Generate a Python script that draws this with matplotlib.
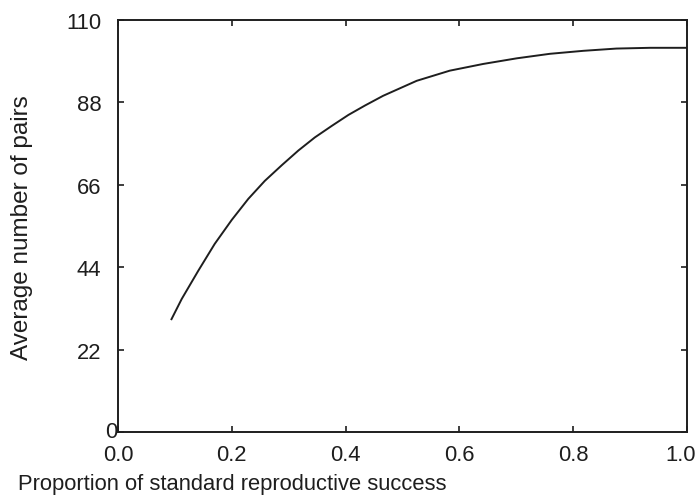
import matplotlib
matplotlib.use("Agg")
import matplotlib.pyplot as plt
import matplotlib.transforms as mtransforms

plt.rcParams['font.family'] = ['Liberation Sans', 'DejaVu Sans']

# Data
proportion = [0.094, 0.112, 0.141, 0.170, 0.200, 0.229, 0.258, 0.288, 0.317,
              0.346, 0.376, 0.405, 0.434, 0.466, 0.525, 0.583, 0.642, 0.701,
              0.759, 0.818, 0.876, 0.935, 0.988, 1.0]
avg_pairs = [30.1, 35.5, 43.0, 50.2, 56.6, 62.2, 67.0, 71.2, 75.1,
             78.6, 81.7, 84.6, 87.1, 89.7, 93.7, 96.4, 98.2, 99.7,
             100.9, 101.7, 102.3, 102.5, 102.5, 102.5]

xtick_values = [0.0, 0.2, 0.4, 0.6, 0.8, 1.0]
xtick_labels = ["0.0", "0.2", "0.4", "0.6", "0.8", "1.0"]
ytick_values = [0, 22, 44, 66, 88, 110]
ytick_labels = ["0", "22", "44", "66", "88", "110"]

xlabel = "Proportion of standard reproductive success"
ylabel = "Average number of pairs"

W, H = 696, 502
FS = 15.8
fig = plt.figure(figsize=(W / 100, H / 100), dpi=100)
ax = fig.add_axes([118 / W, 1 - 433 / H, (687 - 118) / W, (433 - 20.7) / H])

ink = "#1e1e1e"
ax.plot(proportion, avg_pairs, color=ink, lw=1.4)

ax.set_xlim(0, 1.0)
ax.set_ylim(0, 110)

ax.set_xticks(xtick_values)
ax.set_xticklabels(xtick_labels[:-1] + [""])
ax.set_yticks(ytick_values)
ax.set_yticklabels([""] + ytick_labels[1:])

ax.tick_params(direction="in", length=4.5, width=1.2, color=ink,
               top=True, right=True, labelsize=FS, labelcolor=ink)
ax.tick_params(axis="x", pad=9)
ax.tick_params(axis="y", pad=12)

for s in ax.spines.values():
    s.set_linewidth(1.4)
    s.set_color(ink)

# the "0" of the y axis sits right against the spine in the reference
off = mtransforms.ScaledTranslation(-1 / 100, 0, fig.dpi_scale_trans)
ax.text(0, ytick_values[0], ytick_labels[0], transform=ax.get_yaxis_transform() + off,
        ha="right", va="center", fontsize=FS, color=ink)
# the last x label is pulled in to stay inside the picture
off2 = mtransforms.ScaledTranslation(9 / 100, -(12.5 / 100), fig.dpi_scale_trans)
ax.text(xtick_values[-1], 0, xtick_labels[-1], transform=ax.get_xaxis_transform() + off2,
        ha="right", va="top", fontsize=FS, color=ink)

fig.text(18 / W, 1 - 485 / H, xlabel, ha="left", va="center", fontsize=FS, color=ink)
fig.text(22 / W, 1 - 228 / H, ylabel, ha="center", va="center", rotation=90,
         fontsize=17.5, color=ink)

fig.savefig("out.png", dpi=100)
